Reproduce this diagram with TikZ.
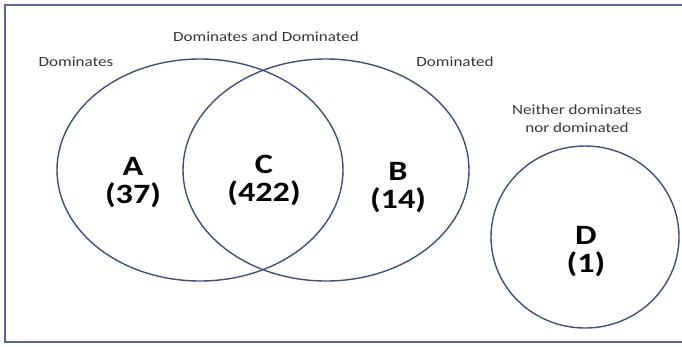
\documentclass[tikz,border=0pt]{standalone}
\usepackage{fontspec}
\setmainfont{Carlito}[FakeStretch=1.22]
\usetikzlibrary{shapes.geometric}
\definecolor{ringblue}{RGB}{62,82,120}
\definecolor{framegray}{RGB}{88,106,140}
\definecolor{labelgray}{RGB}{55,55,55}

\begin{document}
\begin{tikzpicture}[x=1pt,y=-1pt,
    ring/.style={draw=ringblue,line width=1.4pt,ellipse,inner sep=0pt},
    setname/.style={font=\fontsize{28}{28}\selectfont\bfseries,align=center},
    caption/.style={font=\fontsize{14}{18}\selectfont,text=labelgray,align=center}]
  \useasboundingbox (0,0) rectangle (682,346);
  % Frame
  \draw[framegray,line width=2pt] (700,5) -- (5,5) -- (5,342) -- (700,342);
  % Sets
  \node[ring,minimum width=286pt,minimum height=222pt] (setA) at (200,170) {};
  \node[ring,minimum width=286pt,minimum height=222pt] (setB) at (326,170) {};
  \node[ring,minimum width=188pt,minimum height=182pt] (setD) at (585,237) {};
  % Region names
  \node[setname] (nameA) at (133,183) {A\\(37)};
  \node[setname] (nameC) at (264,180) {C\\(422)};
  \node[setname] (nameB) at (398,188) {B\\(14)};
  \node[setname] (nameD) at (586,252) {D\\(1)};
  % Captions
  \node[caption] (capA) at (76,62) {Dominates};
  \node[caption] (capC) at (266,37) {Dominates and Dominated};
  \node[caption] (capB) at (455,62) {Dominated};
  \node[caption] (capD) at (577,119) {Neither dominates\\nor dominated};
\end{tikzpicture}
\end{document}
